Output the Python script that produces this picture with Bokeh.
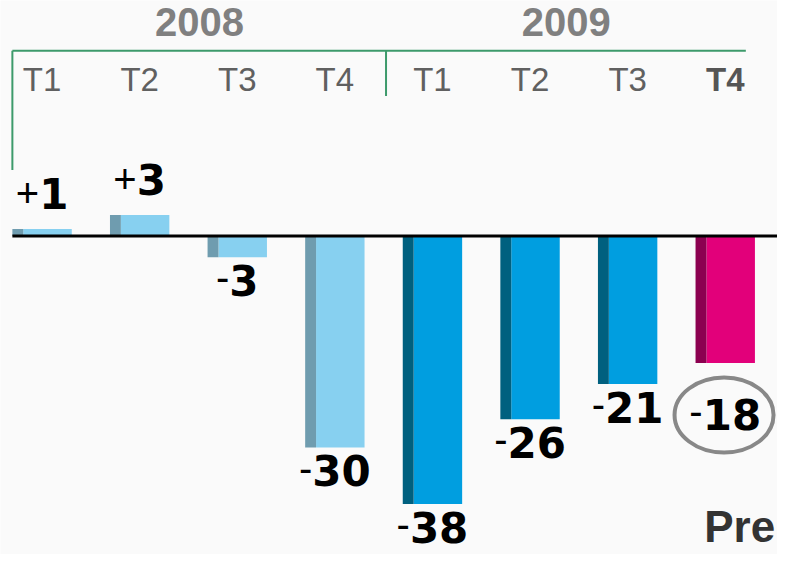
from bokeh.plotting import figure
from bokeh.models import ColumnDataSource
from bokeh.core.properties import value
from bokeh.embed import file_html
from bokeh.resources import INLINE

# ---- data ----
years = ["2008", "2009"]
quarters = ["T1", "T2", "T3", "T4", "T1", "T2", "T3", "T4"]
values = [1, 3, -3, -30, -38, -26, -21, -18]
note = "Pre"

# ---- layout (reference pixel geometry, scaled into the figure) ----
W, H = 777, 554
REF_W, REF_H = 785, 562
C0, STEP = 42.0, 98.6   # ref px of first bar centre, ref px per category
Z0, K = 239.0, 7.15     # ref px of zero line, ref px per unit
BASE_FIX = 0.4          # svg text baseline correction (em)


def X(px):
    return (px - C0) / STEP


def Y(py):
    return (Z0 - py) / K


p = figure(width=W, height=H, output_backend="svg", toolbar_location=None,
           x_range=(X(0), X(REF_W)), y_range=(Y(REF_H), Y(0)),
           min_border=0)
p.axis.visible = False
p.grid.visible = False
p.outline_line_color = None
p.background_fill_color = "#fafafa"
p.border_fill_color = "#fafafa"

n = len(values)
idx = list(range(n))
bw = 60 / STEP
sw = 11 / STEP
light = ["#87d0f0"] * 4 + ["#009ee0"] * 3 + ["#e2007a"]
dark = ["#6f9caf"] * 4 + ["#00607f"] * 3 + ["#8c0050"]

bars = ColumnDataSource(dict(
    l=[i - bw / 2 for i in idx],
    m=[i - bw / 2 + sw for i in idx],
    r=[i + bw / 2 for i in idx],
    top=[max(v, 0) for v in values],
    bot=[min(v, 0) for v in values],
    light=light, dark=dark,
))
p.quad(left="m", right="r", top="top", bottom="bot", fill_color="light",
       line_color=None, source=bars)
p.quad(left="l", right="m", top="top", bottom="bot", fill_color="dark",
       line_color=None, source=bars)

# zero line
p.segment(x0=[X(12)], y0=[0], x1=[X(REF_W + 5)], y1=[0], line_color="black", line_width=3)

# value labels
NUM_FS, SIGN_FS = 42, 40
signs = ["+" if v > 0 else "-" for v in values]
nums = [str(abs(v)) for v in values]
xo, yo_num, yo_sign = [], [], []
for i, v in enumerate(values):
    numw = 0.696 * NUM_FS * len(nums[i])
    signw = (0.584 if v > 0 else 0.333) * SIGN_FS
    xo.append(-(numw - signw) / 2)
    if v > 0:
        base = -19
    elif i == n - 1:
        base = 68
    else:
        base = 40
    yo_num.append(base - BASE_FIX * NUM_FS)
    yo_sign.append(base - BASE_FIX * SIGN_FS - (1 if v > 0 else 4))

lab = ColumnDataSource(dict(x=idx, y=values, sign=signs, num=nums, xo=xo,
                            yon=yo_num, yos=yo_sign))
p.text(x="x", y="y", text="sign", x_offset="xo", y_offset="yos", source=lab,
       text_align="right", text_baseline="alphabetic",
       text_font=value("Liberation Sans"), text_font_size=f"{SIGN_FS}px",
       text_color="black")
p.text(x="x", y="y", text="num", x_offset="xo", y_offset="yon", source=lab,
       text_align="left", text_baseline="alphabetic",
       text_font=value("DejaVu Sans"), text_font_style="bold",
       text_font_size=f"{NUM_FS}px", text_color="black")

# ellipse around last value
p.ellipse(x=[X(731)], y=[Y(420.5)], width=[99], height=[75],
          width_units="screen", height_units="screen",
          fill_color=None, line_color="#888888", line_width=4)

# header: quarters
Q_FS = 33
p.text(x=idx[:-1], y=[Y(94)] * (n - 1), text=quarters[:-1],
       y_offset=-BASE_FIX * Q_FS,
       text_align="center", text_baseline="alphabetic",
       text_font=value("Liberation Sans"), text_font_size=f"{Q_FS}px",
       text_color="#606060")
p.text(x=idx[-1:], y=[Y(94)], text=quarters[-1:],
       y_offset=-BASE_FIX * Q_FS,
       text_align="center", text_baseline="alphabetic",
       text_font=value("Liberation Sans"), text_font_style="bold",
       text_font_size=f"{Q_FS}px", text_color="#555555")

# header: years
Y_FS = 40
p.text(x=[X(201), X(571.5)], y=[Y(38)] * 2, text=years,
       y_offset=-BASE_FIX * Y_FS,
       text_align="center", text_baseline="alphabetic",
       text_font=value("Liberation Sans"), text_font_style="bold",
       text_font_size=f"{Y_FS}px", text_color="#808080")

# header bracket lines
green = "#3d9a6b"
p.segment(x0=[X(12), X(12), X(389.5)], y0=[Y(51), Y(51), Y(51)],
          x1=[X(753), X(12), X(389.5)], y1=[Y(51), Y(172), Y(97)],
          line_color=green, line_width=2)

# cut-off note at bottom right
N_FS = 44
p.text(x=[X(711)], y=[Y(551)], text=[note], y_offset=-BASE_FIX * N_FS,
       text_align="left", text_baseline="alphabetic",
       text_font=value("Liberation Sans"), text_font_style="bold",
       text_font_size=f"{N_FS}px", text_color="#333333")

open("out.html", "w").write(file_html(p, INLINE))
